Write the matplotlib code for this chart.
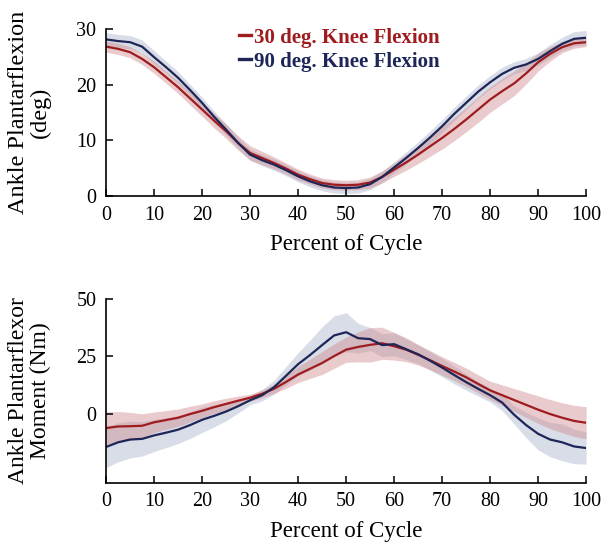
import matplotlib
matplotlib.use("Agg")
import matplotlib.pyplot as plt
import numpy as np

# ---------------- data ----------------
pct = [0, 2.5, 5, 7.5, 10, 12.5, 15, 17.5, 20, 22.5, 25, 27.5, 30, 32.5, 35, 37.5, 40,
       42.5, 45, 47.5, 50, 52.5, 55, 57.5, 60, 62.5, 65, 67.5, 70, 72.5, 75, 77.5, 80,
       82.5, 85, 87.5, 90, 92.5, 95, 97.5, 100]

angle_30 = [26.8, 26.4, 25.8, 24.6, 23.1, 21.3, 19.5, 17.5, 15.5, 13.5, 11.6, 9.5, 7.7,
            6.8, 5.9, 4.9, 3.8, 3.0, 2.3, 2.0, 1.9, 2.0, 2.4, 3.4, 4.7, 6.0, 7.4, 8.9,
            10.4, 12.0, 13.7, 15.5, 17.3, 18.8, 20.2, 22.0, 24.0, 25.5, 26.7, 27.4, 27.6]
angle_30_sd = [1.0, 1.0, 1.0, 1.0, 1.1, 1.1, 1.1, 1.2, 1.2, 1.3, 1.3, 1.3, 1.3, 1.2, 1.1,
               1.0, 1.0, 0.9, 0.9, 0.9, 0.9, 0.9, 1.0, 1.1, 1.2, 1.4, 1.6, 1.8, 2.0, 2.1,
               2.2, 2.3, 2.3, 2.3, 2.2, 1.9, 1.6, 1.3, 1.0, 0.9, 0.8]
angle_90 = [28.1, 27.8, 27.6, 26.8, 24.9, 23.1, 21.2, 19.0, 16.7, 14.2, 11.9, 9.5, 7.4,
            6.4, 5.6, 4.6, 3.5, 2.6, 1.9, 1.5, 1.4, 1.5, 2.1, 3.4, 5.1, 6.8, 8.6, 10.5,
            12.5, 14.7, 16.7, 18.7, 20.4, 21.9, 23.0, 23.6, 24.6, 26.0, 27.3, 28.2, 28.4]
angle_90_sd = [1.2, 1.2, 1.2, 1.2, 1.2, 1.1, 1.1, 1.0, 1.0, 1.0, 1.0, 1.0, 1.0, 1.0, 1.0,
               1.0, 1.0, 1.0, 1.0, 1.0, 1.0, 1.0, 1.0, 1.0, 1.0, 1.1, 1.1, 1.2, 1.2, 1.2,
               1.2, 1.2, 1.2, 1.2, 1.1, 1.1, 1.1, 1.2, 1.2, 1.3, 1.3]

moment_30 = [-6.3, -5.6, -5.5, -5.3, -3.8, -2.8, -1.8, -0.2, 1.2, 2.8, 4.2, 5.6, 6.9, 8.6,
             10.8, 13.8, 17.0, 19.5, 22.0, 25.0, 27.8, 29.0, 29.9, 30.6, 29.3, 27.8, 25.6,
             23.2, 20.7, 18.3, 15.8, 12.9, 10.1, 8.0, 5.9, 3.8, 1.7, -0.2, -1.8, -3.2, -4.0]
moment_30_sd = [7.0, 6.5, 6.0, 5.2, 4.5, 4.1, 3.8, 3.4, 3.0, 2.8, 2.5, 2.0, 1.5, 1.7, 2.0,
                2.8, 3.5, 4.2, 5.0, 5.3, 5.5, 6.5, 7.5, 7.0, 6.0, 5.2, 4.5, 4.2, 4.0, 4.0,
                4.0, 4.0, 4.0, 4.5, 5.0, 5.5, 6.0, 6.3, 6.5, 6.8, 7.0]
moment_90 = [-14.5, -12.5, -11.3, -11.0, -9.5, -8.3, -7.0, -5.0, -2.7, -1.0, 0.9, 3.2, 5.8,
             8.0, 11.5, 16.5, 21.5, 25.5, 29.8, 34.0, 35.4, 32.8, 32.4, 29.8, 30.2, 28.0,
             25.8, 23.0, 20.0, 16.8, 13.7, 10.8, 8.0, 4.8, -0.5, -5.0, -8.8, -11.3, -12.5,
             -14.3, -15.0]
moment_90_sd = [9.0, 8.5, 8.0, 7.5, 7.0, 6.5, 6.0, 5.8, 5.5, 4.8, 4.0, 3.0, 2.0, 2.5, 3.0,
                4.0, 5.0, 6.5, 8.0, 8.5, 8.5, 6.5, 5.0, 5.0, 5.0, 4.5, 4.0, 4.0, 4.0, 3.8,
                3.5, 3.2, 3.0, 3.5, 4.0, 5.5, 7.0, 7.5, 8.0, 7.5, 7.0]

labels = ["30 deg. Knee Flexion", "90 deg. Knee Flexion"]
xticks = [0, 10, 20, 30, 40, 50, 60, 70, 80, 90, 100]

# ---------------- style ----------------
plt.rcParams['font.family'] = ['Liberation Serif', 'DejaVu Serif']
red = '#9e1b1e'
blue = '#1d2657'
red_fill = (0.82, 0.55, 0.57, 0.45)
blue_fill = (0.62, 0.67, 0.78, 0.40)

fig = plt.figure(figsize=(6.03, 5.44), dpi=100)
ax1 = fig.add_axes([0.176, 0.640, 0.796, 0.307])
ax2 = fig.add_axes([0.176, 0.113, 0.796, 0.338])

x = np.array(pct)


def panel(ax, m1, s1, m2, s2):
    m1, s1, m2, s2 = map(np.array, (m1, s1, m2, s2))
    ax.fill_between(x, m2 - s2, m2 + s2, color=blue_fill, lw=0)
    ax.fill_between(x, m1 - s1, m1 + s1, color=red_fill, lw=0)
    l1, = ax.plot(x, m1, color=red, lw=1.6, label=labels[0])
    l2, = ax.plot(x, m2, color=blue, lw=1.6, label=labels[1])
    ax.set_xlim(0, 100)
    ax.set_xticks(xticks)
    for s in ('top', 'right'):
        ax.spines[s].set_visible(False)
    for s in ('left', 'bottom'):
        ax.spines[s].set_linewidth(1.2)
    ax.tick_params(direction='in', length=5, width=1.1, labelsize=14.5, pad=7)
    ax.set_xlabel('Percent of Cycle', fontsize=16.5, labelpad=7)
    return l1, l2


l1, l2 = panel(ax1, angle_30, angle_30_sd, angle_90, angle_90_sd)
ax1.set_ylim(0, 30)
ax1.set_yticks([0, 10, 20, 30])
ax1.set_ylabel('Ankle Plantarflexion\n(deg)', fontsize=17.5, linespacing=1.05, labelpad=18)

panel(ax2, moment_30, moment_30_sd, moment_90, moment_90_sd)
ax2.set_ylim(-30, 50)
ax2.set_yticks([0, 25, 50])
ax2.set_ylabel('Ankle Plantarflexor\nMoment (Nm)', fontsize=17, linespacing=1.05, labelpad=18)

leg = ax1.legend(handles=[l1, l2], loc='upper left', bbox_to_anchor=(0.237, 1.12),
                 frameon=False, handlelength=0.6, handletextpad=0.15, labelspacing=0.2,
                 prop={'family': 'Liberation Serif', 'weight': 'bold', 'size': 15})
for t, c in zip(leg.get_texts(), [red, blue]):
    t.set_color(c)
for h in leg.legend_handles:
    h.set_linewidth(2.4)

fig.savefig('out.png', dpi=100)
